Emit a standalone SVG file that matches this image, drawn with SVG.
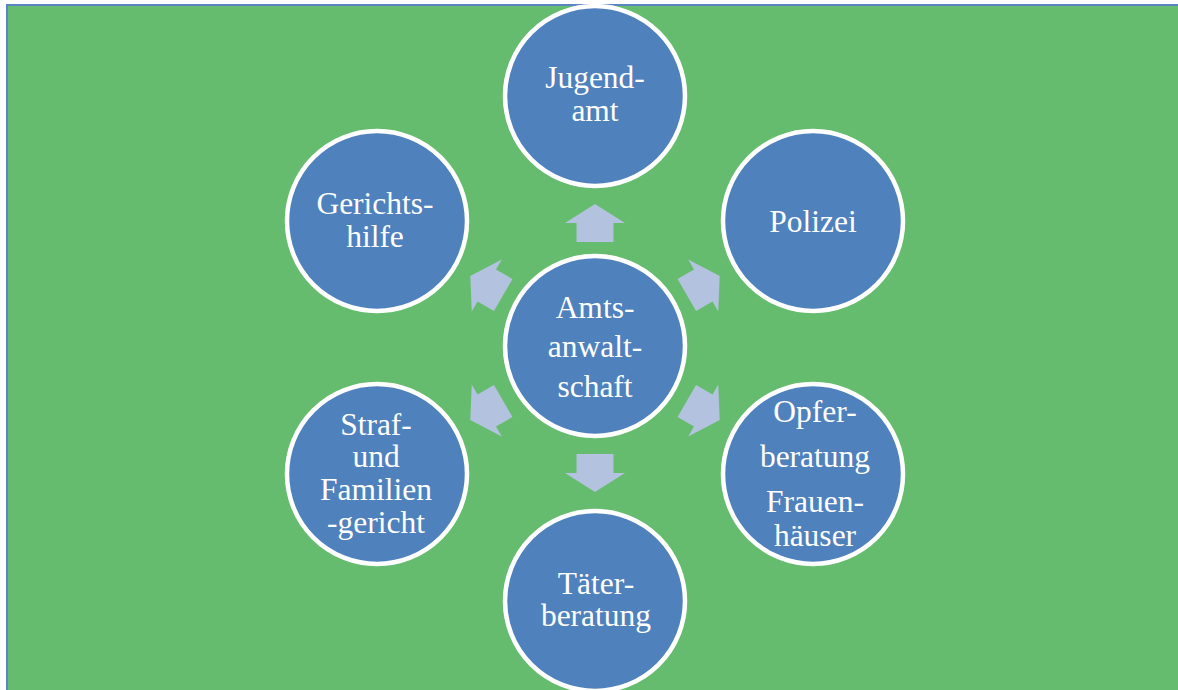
<svg xmlns="http://www.w3.org/2000/svg" width="1178" height="690" viewBox="0 0 1178 690">
  <defs>
    <style>
      .node circle { fill: #4F81BD; stroke: #FFFFFF; stroke-width: 4.5; }
      .node text { fill: #FFFFFF; font-size: 31.5px; text-anchor: middle; }
      .arrow { fill: #B3C2DE; }
    </style>
    <polygon id="arr" points="-18.5,-106 -18.5,-125 -30,-125 0,-144 30,-125 18.5,-125 18.5,-106"/>
  </defs>
  <rect x="0" y="0" width="1178" height="690" fill="#FFFFFF"/>
  <rect x="7" y="5" width="1190" height="700" fill="#66BC6E" stroke="#5B84C4" stroke-width="2"/>

  <g id="connectors" transform="translate(595,348)">
    <use href="#arr" class="arrow"/>
    <use href="#arr" class="arrow" transform="rotate(60)"/>
    <use href="#arr" class="arrow" transform="rotate(120)"/>
    <use href="#arr" class="arrow" transform="rotate(180)"/>
    <use href="#arr" class="arrow" transform="rotate(240)"/>
    <use href="#arr" class="arrow" transform="rotate(300)"/>
  </g>

  <g font-family="'Liberation Serif', 'DejaVu Serif', serif">
  <g id="amtsanwaltschaft" class="node">
    <circle cx="595" cy="346" r="90"/>
    <text x="595" y="318">Amts-</text>
    <text x="595" y="357">anwalt-</text>
    <text x="595" y="397">schaft</text>
  </g>
  <g id="jugendamt" class="node">
    <circle cx="595" cy="96" r="90"/>
    <text x="595" y="88">Jugend-</text>
    <text x="595" y="121">amt</text>
  </g>
  <g id="polizei" class="node">
    <circle cx="813" cy="221" r="90"/>
    <text x="813" y="232">Polizei</text>
  </g>
  <g id="opferberatung" class="node">
    <circle cx="813" cy="474" r="90"/>
    <text x="815" y="422">Opfer-</text>
    <text x="815" y="467">beratung</text>
    <text x="815" y="512">Frauen-</text>
    <text x="815" y="546">häuser</text>
  </g>
  <g id="taeterberatung" class="node">
    <circle cx="595" cy="601" r="90"/>
    <text x="596" y="594">Täter-</text>
    <text x="596" y="626">beratung</text>
  </g>
  <g id="strafgericht" class="node">
    <circle cx="377" cy="474" r="90"/>
    <text x="376" y="435">Straf-</text>
    <text x="376" y="467">und</text>
    <text x="376" y="500">Familien</text>
    <text x="376" y="533">-gericht</text>
  </g>
  <g id="gerichtshilfe" class="node">
    <circle cx="377" cy="221" r="90"/>
    <text x="375" y="214">Gerichts-</text>
    <text x="375" y="247">hilfe</text>
  </g>
  </g>
</svg>
